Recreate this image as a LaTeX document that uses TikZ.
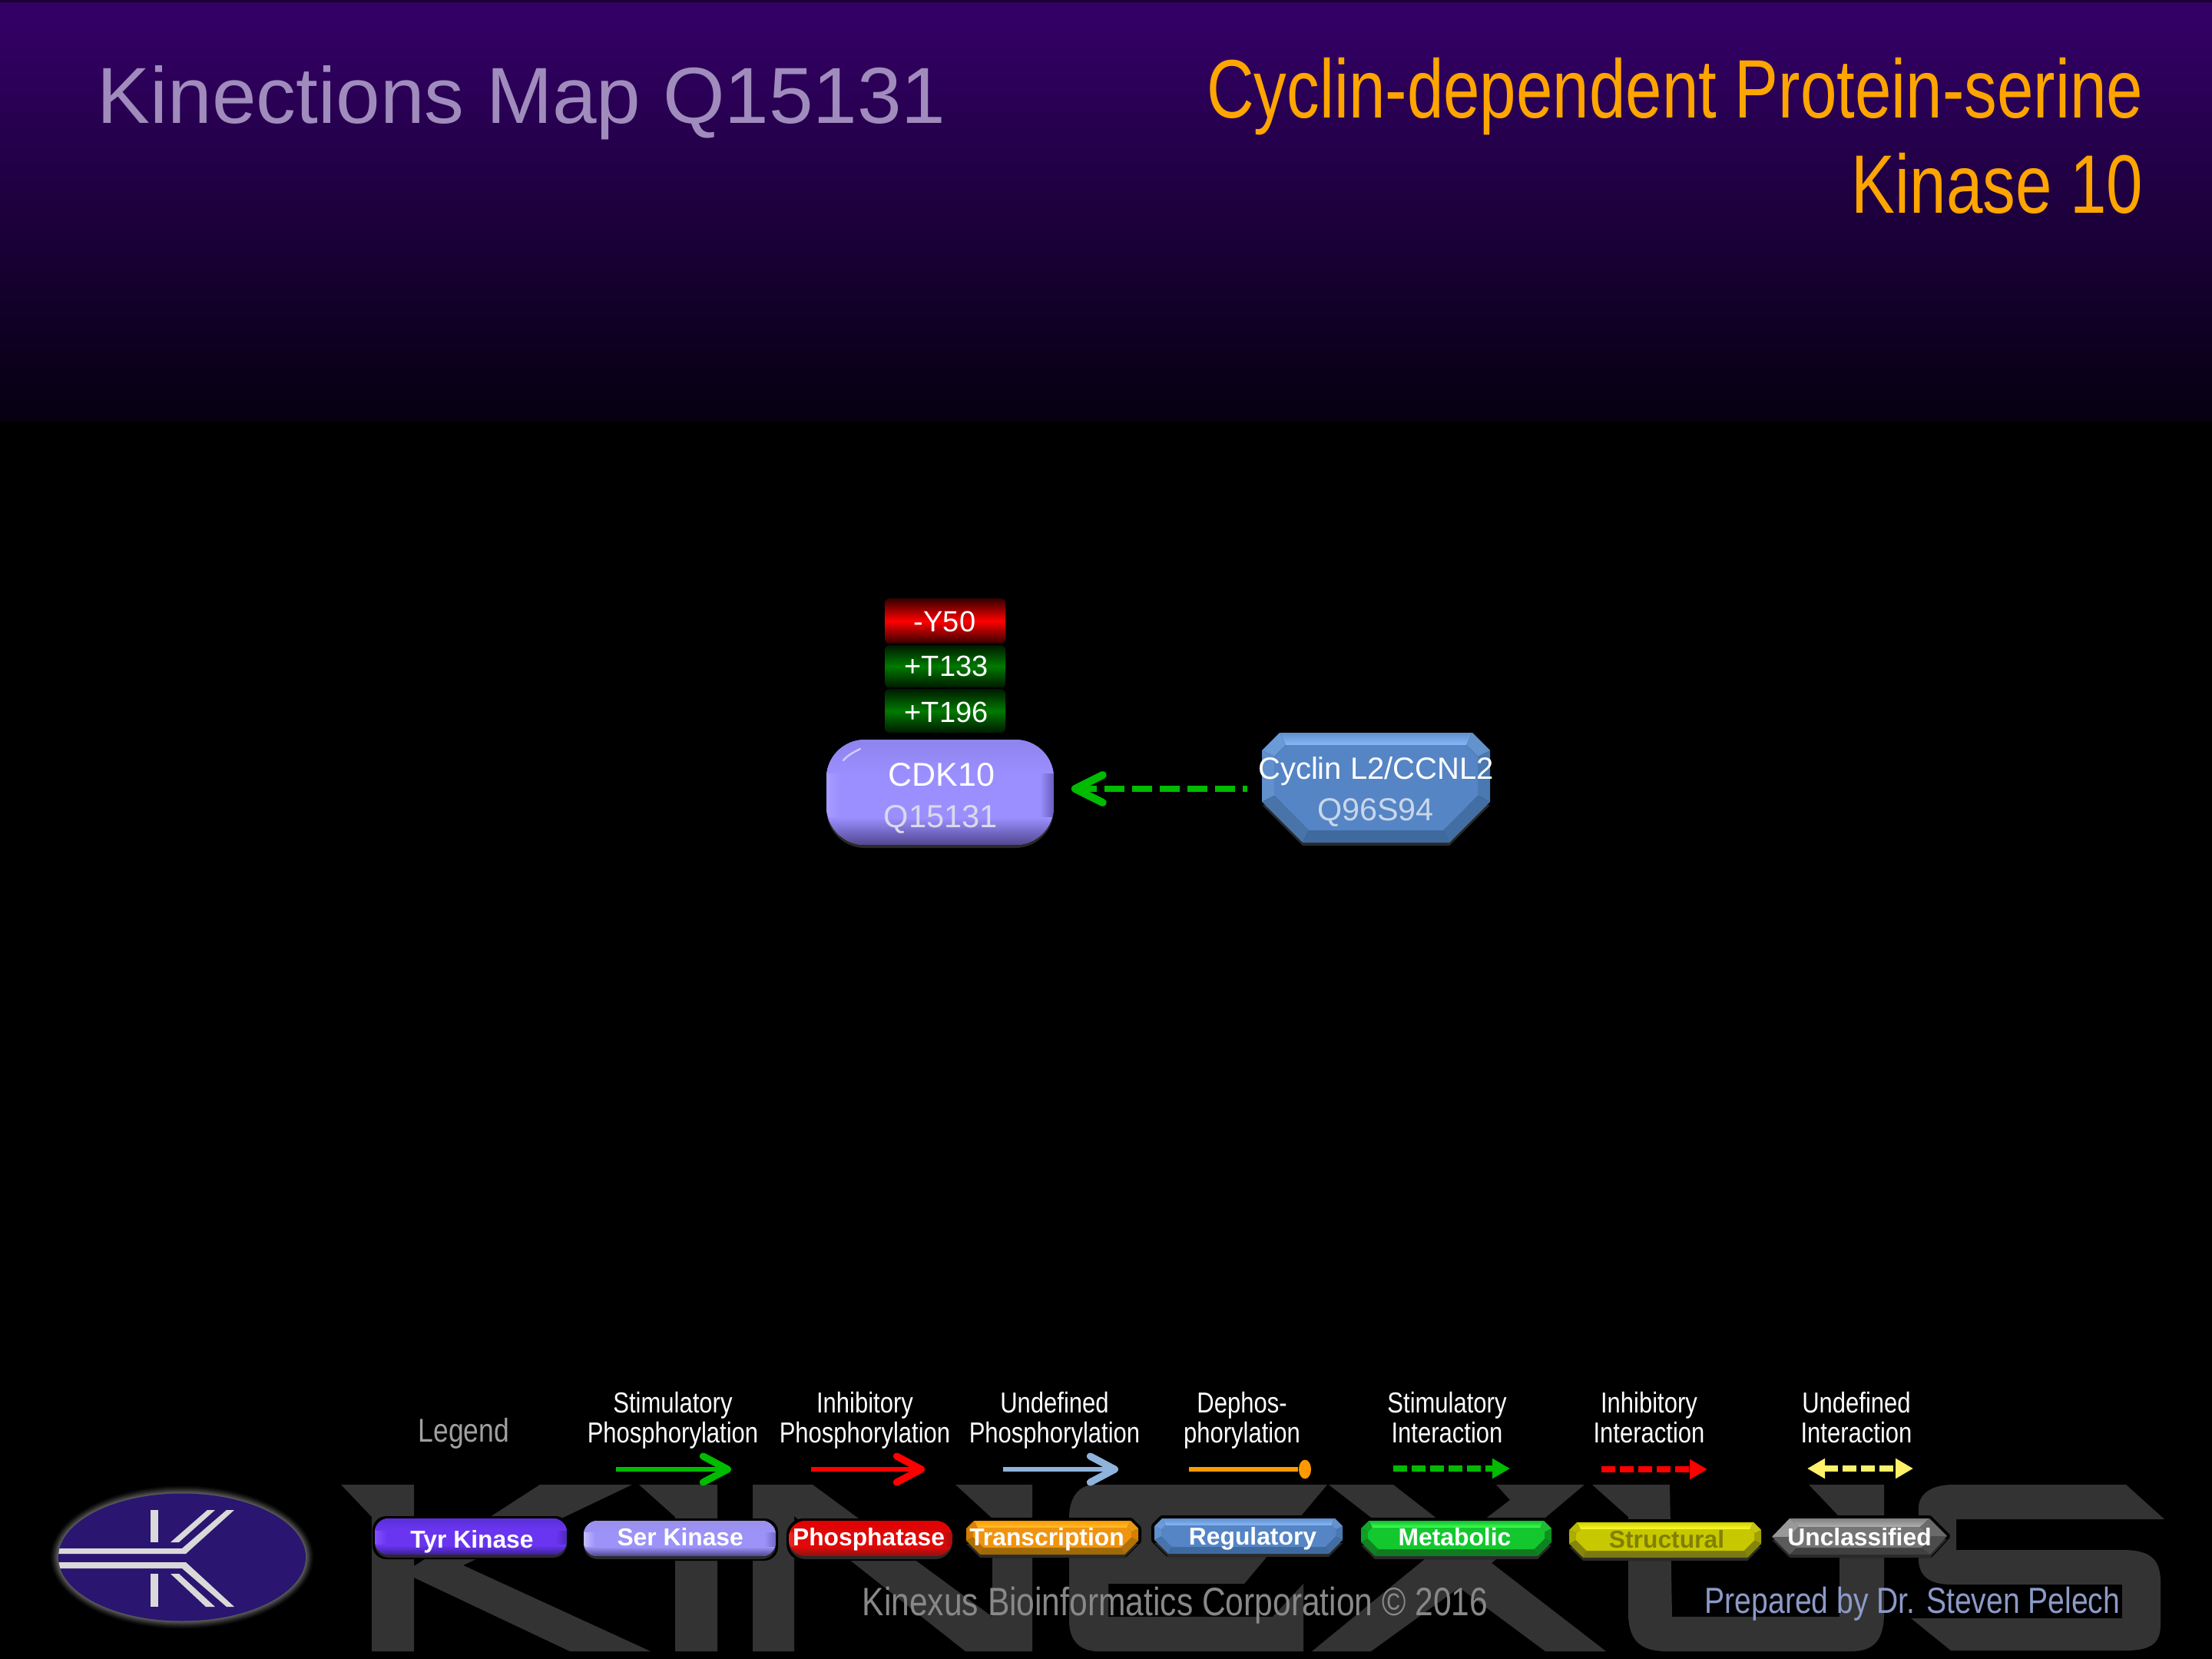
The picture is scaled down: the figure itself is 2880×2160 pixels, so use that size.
\documentclass[tikz,border=0pt]{standalone}
\usepackage{fontspec}
\setmainfont{Liberation Sans}
\newfontfamily\fright[FakeStretch=0.79]{Liberation Sans}
\newfontfamily\nar[FakeStretch=0.825]{Liberation Sans}
\usetikzlibrary{arrows.meta,shapes.geometric}
\newcommand{\fs}[1]{\fontsize{#1}{#1}\selectfont}
\definecolor{hdr}{HTML}{330066}
\definecolor{hdrend}{HTML}{050010}
\definecolor{wm}{HTML}{333333}
\definecolor{shad}{HTML}{2A2A2A}
\definecolor{gIx}{HTML}{00BB00}
\definecolor{tyrE}{HTML}{5A30D8}\definecolor{tyrH}{HTML}{B07CFF}\definecolor{tyrM}{HTML}{6A35F0}\definecolor{tyrB}{HTML}{3E1F98}\definecolor{tyrL}{HTML}{8452FF}\definecolor{tyrR}{HTML}{4E28B8}
\definecolor{serE}{HTML}{9A90E8}\definecolor{serH}{HTML}{D8D2FF}\definecolor{serM}{HTML}{9C92F8}\definecolor{serB}{HTML}{50478C}\definecolor{serL}{HTML}{C4BDFF}\definecolor{serR}{HTML}{7268C8}
\definecolor{phoE}{HTML}{E00000}\definecolor{phoH}{HTML}{FF3C3C}\definecolor{phoM}{HTML}{E00808}\definecolor{phoB}{HTML}{8C1212}\definecolor{phoL}{HTML}{F02828}\definecolor{phoR}{HTML}{A01010}
\definecolor{cdkE}{HTML}{8F83EE}\definecolor{cdkH}{HTML}{D3CCFF}\definecolor{cdkM}{HTML}{9B8FFF}\definecolor{cdkB}{HTML}{51478F}\definecolor{cdkL}{HTML}{A79DFF}\definecolor{cdkR}{HTML}{675CBC}
\definecolor{traE}{HTML}{FF9900}\definecolor{traH}{HTML}{FFC030}\definecolor{traM}{HTML}{F09410}\definecolor{traB}{HTML}{A06A08}\definecolor{traL}{HTML}{E08000}\definecolor{traR}{HTML}{D88000}
\definecolor{regE}{HTML}{5F90D0}\definecolor{regH}{HTML}{88B8F8}\definecolor{regM}{HTML}{5585C5}\definecolor{regB}{HTML}{3F6A9F}\definecolor{regL}{HTML}{6A9AD8}\definecolor{regR}{HTML}{4A78B0}
\definecolor{metE}{HTML}{10C030}\definecolor{metH}{HTML}{40FF50}\definecolor{metM}{HTML}{12C82E}\definecolor{metB}{HTML}{107A20}\definecolor{metL}{HTML}{10A828}\definecolor{metR}{HTML}{0E9020}
\definecolor{strE}{HTML}{D0D000}\definecolor{strH}{HTML}{FFFF30}\definecolor{strM}{HTML}{C8C800}\definecolor{strB}{HTML}{7A7A10}\definecolor{strL}{HTML}{B8B800}\definecolor{strR}{HTML}{A0A000}
\definecolor{uncE}{HTML}{808080}\definecolor{uncH}{HTML}{B0B0B0}\definecolor{uncM}{HTML}{757575}\definecolor{uncB}{HTML}{404040}\definecolor{uncL}{HTML}{999999}\definecolor{uncR}{HTML}{6A6A6A}
% pill: x0 y0 x1 y1 radius(pt) prefix
\newcommand{\pill}[6]{%
  \fill[black,rounded corners=#5] ({#1-3},{#2-3}) rectangle ({#3+3},{#4+6});
  \fill[shad,rounded corners=#5] (#1,{#2+4}) rectangle (#3,{#4+4});
  \begin{scope}
    \clip[rounded corners=#5] (#1,#2) rectangle (#3,#4);
    \fill[#6M] (#1,#2) rectangle (#3,#4);
    \shade[left color=#6L,right color=#6M] (#1,#2) rectangle ({#1+0.06*(#3-#1)},#4);
    \shade[left color=#6M,right color=#6R] ({#3-0.06*(#3-#1)},#2) rectangle (#3,#4);
    \shade[top color=#6E,middle color=#6H,bottom color=#6M] (#1,#2) rectangle (#3,{#2+0.32*(#4-#2)});
    \shade[top color=#6M,bottom color=#6B] (#1,{#4-0.26*(#4-#2)}) rectangle (#3,#4);
  \end{scope}}
% octagon: x0 y0 x1 y1 topchamfer bottomchamfer inset prefix
\newcommand{\octo}[8]{%
  \coordinate (oA) at ({#1+#5},#2); \coordinate (oB) at ({#3-#5},#2);
  \coordinate (oC) at (#3,{#2+#5}); \coordinate (oD) at (#3,{#4-#6});
  \coordinate (oE) at ({#3-#6},#4); \coordinate (oF) at ({#1+#6},#4);
  \coordinate (oG) at (#1,{#4-#6}); \coordinate (oH) at (#1,{#2+#5});
  \coordinate (iA) at ({#1+#5+0.5*#7},{#2+#7}); \coordinate (iB) at ({#3-#5-0.5*#7},{#2+#7});
  \coordinate (iC) at ({#3-#7},{#2+#5+0.5*#7}); \coordinate (iD) at ({#3-#7},{#4-#6-0.5*#7});
  \coordinate (iE) at ({#3-#6-0.5*#7},{#4-#7}); \coordinate (iF) at ({#1+#6+0.5*#7},{#4-#7});
  \coordinate (iG) at ({#1+#7},{#4-#6-0.5*#7}); \coordinate (iH) at ({#1+#7},{#2+#5+0.5*#7});
  \draw[black,fill=black,line width=2pt,line join=round] (oA)--(oB)--(oC)--(oD)--(oE)--(oF)--(oG)--(oH)--cycle;
  \fill[shad,transform canvas={yshift=-1pt}] (oG)--(oD)--(oE)--(oF)--cycle;
  \shade[top color=#8E,bottom color=#8H] (oA)--(oB)--(iB)--(iA)--cycle;
  \fill[#8L] (oA)--(iA)--(iH)--(oH)--cycle;
  \fill[#8L!80!#8B] (oH)--(iH)--(iG)--(oG)--cycle;
  \fill[#8B!80!#8L] (oG)--(iG)--(iF)--(oF)--cycle;
  \fill[#8B] (oF)--(iF)--(iE)--(oE)--cycle;
  \fill[#8B!70!#8R] (oE)--(iE)--(iD)--(oD)--cycle;
  \fill[#8R] (oD)--(iD)--(iC)--(oC)--cycle;
  \fill[#8R!60!#8H] (oC)--(iC)--(iB)--(oB)--cycle;
  \fill[#8M] (iA)--(iB)--(iC)--(iD)--(iE)--(iF)--(iG)--(iH)--cycle;}
\tikzset{
  wmark/.style={fill=wm},
  btntext/.style={anchor=base,inner sep=0pt,text=white,font=\fs{7.95}\bfseries},
  ptmtext/.style={anchor=base,inner sep=0pt,text=white,font=\fs{9.5}},
  idtext/.style={anchor=base,inner sep=0pt,font=\fs{10.5}},
  legtext/.style={anchor=base,inner sep=0pt,align=center,text=white,font=\fontsize{9.4}{9.75}\selectfont\nar},
  ptmred/.style={rounded corners=1.5pt,top color=red!20!black,bottom color=red!20!black,middle color=red},
  ptmgreen/.style={rounded corners=1.5pt,top color=green!50!black!20!black,bottom color=green!50!black!20!black,middle color=green!48!black},
  larrow/.style={line width=1.7pt,-{Straight Barb[length=8pt,width=8.5pt,line width=2.3pt,round]}},
  darrow/.style={line width=1.8pt,dash pattern=on 4.6pt off 1.4pt},
}
\begin{document}
\begin{tikzpicture}[x=0.25pt,y=-0.25pt]
\useasboundingbox (0,0) rectangle (2880,2160);
\fill[black] (0,0) rectangle (2880,2160);
\fill[hdr] (0,3) rectangle (2880,25);
\shade[top color=hdr,bottom color=hdrend] (0,25) rectangle (2880,550);
\fill[hdr!50!black] (0,0) rectangle (2880,3);
% watermark KINEXUS
\fill[wmark] (444,1933)--(539,1933)--(539,2039)--(703,1933)--(823,1933)--(603,2038)--(847,2150)--(742,2150)--(539,2054)--(539,2150)--(484,2150)--(484,1975)--cycle;
\fill[wmark] (832,1933)--(934,1933)--(934,2150)--(879,2150)--(879,1975)--cycle;
\fill[wmark] (980,1933)--(1058,1933)--(1292,2105)--(1292,1977)--(1244,1933)--(1344,1933)--(1344,2150)--(1257,2150)--(1034,1974)--(1034,2150)--(980,2150)--cycle;
\fill[wmark] (1425,1933)--(1728,1933)--(1620,2062)--(1443,2062)--(1443,2105)--(1657,2105)--(1697,2062)--(1697,2150)--(1430,2150) .. controls (1405,2150) and (1392,2135) .. (1392,2110)--(1392,1975) .. controls (1392,1950) and (1405,1933) .. (1425,1933)--cycle;
\fill[wmark] (1730,1933)--(1814,1933)--(1868,1975)--(1905,2003)--(1937,1975)--(1966,1953)--(1948,1933)--(2063,1933)--(1942,2035)--(2091,2150)--(2012,2150)--(1900,2067)--(1785,2150)--(1708,2150)--(1855,2030)--cycle;
\fill[wmark] (2073,1933)--(2174,1933)--(2177,2105)--(2395,2105)--(2395,1975)--(2355,1933)--(2453,1933)--(2453,2100) .. controls (2453,2135) and (2440,2150) .. (2410,2150)--(2170,2150) .. controls (2135,2150) and (2120,2135) .. (2120,2100)--(2120,1975)--cycle;
\fill[wmark] (2543,1933)--(2768,1933)--(2818,1978)--(2547,1978)--(2547,2018)--(2763,2018) .. controls (2800,2018) and (2813,2030) .. (2813,2060)--(2813,2115) .. controls (2813,2140) and (2800,2149) .. (2767,2149)--(2540,2149)--(2488,2107)--(2763,2107)--(2763,2063)--(2540,2063) .. controls (2510,2063) and (2498,2050) .. (2498,2030)--(2498,1963) .. controls (2498,1945) and (2515,1933) .. (2543,1933)--cycle;
% logo
\foreach \d/\g in {10/4,8/10,6/17,4/25,2/33}{\fill[white!\g!black] (237,2027.5) ellipse ({161+\d} and {83+\d});}
\begin{scope}
\clip (237,2027.5) ellipse (161 and 83);
\fill[fill={rgb,255:red,42;green,21;blue,112}] (60,1930) rectangle (410,2120);
\fill[white!85!black] (60,2016)--(237,2016)--(295,1966)--(305,1966)--(242,2023)--(60,2023)--cycle;
\fill[white!85!black] (60,2034)--(242,2034)--(305,2092)--(295,2092)--(237,2042)--(60,2042)--cycle;
\fill[white!85!black] (270,1966)--(280,1966)--(233,2008)--(222,2008)--cycle;
\fill[white!85!black] (222,2049)--(233,2049)--(280,2092)--(268,2092)--cycle;
\fill[white!85!black] (196,1966) rectangle (206,2008);
\fill[white!85!black] (196,2049) rectangle (206,2092);
\end{scope}
% titles
\node[anchor=base west,inner sep=0pt,text={rgb,255:red,160;green,140;blue,188},font=\fs{25.88}] (maptitle) at (126,161) {Kinections Map Q15131};
\node[anchor=base east,inner sep=0pt,align=right,text={rgb,255:red,255;green,165;blue,0},font=\fontsize{27}{31}\selectfont\fright] (kinasetitle) at (2791,278) {Cyclin-dependent Protein-serine\\Kinase 10};
% PTM boxes
\shade[ptmred] (1152,779) rectangle (1309,838);
\shade[ptmgreen] (1152,840) rectangle (1309,895);
\shade[ptmgreen] (1152,897) rectangle (1309,954);
\node[ptmtext] (ptma) at (1230,823) {-Y50};
\node[ptmtext] (ptmb) at (1232,881) {+T133};
\node[ptmtext] (ptmc) at (1232,941) {+T196};
% main nodes
\pill{1076}{963}{1372}{1100}{12.5pt}{cdk}
\draw[cdkH,line width=0.6pt,line cap=round] (1098,990) .. controls (1103,984) and (1110,980) .. (1120,975);
\node[inner sep=0pt,minimum width=74pt,minimum height=34.25pt] (cdk) at (1224,1031.5) {};
\node[idtext,font=\fs{10.75},text=white] (cdkname) at (1226,1023) {CDK10};
\node[idtext,font=\fs{10.4},text={rgb,255:red,220;green,216;blue,236}] (cdkid) at (1225,1077) {Q15131};
\octo{1643}{954}{1940}{1097}{23}{53}{16}{reg}
\node[inner sep=0pt,minimum width=74.25pt,minimum height=35pt] (cyc) at (1791.5,1027) {};
\node[idtext,font=\fs{10},text=white] (cycname) at (1791.5,1014) {Cyclin L2/CCNL2};
\node[idtext,font=\fs{10.35},text={rgb,255:red,201;green,214;blue,234}] (cycid) at (1791,1068) {Q96S94};
\draw[gIx,line width=2.2pt,dash pattern=on 6.5pt off 2.5pt,dash phase=5pt,shorten <=4.5pt,shorten >=5.5pt,-{Straight Barb[length=9pt,width=9pt,line width=2.5pt,round]}] (cyc.west) -- (cyc.west -| cdk.east);
% legend labels
\node[anchor=base,inner sep=0pt,text={rgb,255:red,160;green,160;blue,160},font=\fs{10.75}\nar] (legend) at (604,1877) {Legend};
\node[legtext] (la) at (876,1878) {Stimulatory\\Phosphorylation};
\node[legtext] (lb) at (1126,1878) {Inhibitory\\Phosphorylation};
\node[legtext] (lc) at (1373,1878) {Undefined\\Phosphorylation};
\node[legtext] (ld) at (1617,1878) {Dephos-\\phorylation};
\node[legtext] (le) at (1884,1878) {Stimulatory\\Interaction};
\node[legtext] (lf) at (2147,1878) {Inhibitory\\Interaction};
\node[legtext] (lg) at (2417,1878) {Undefined\\Interaction};
% legend arrows
\coordinate (a1) at (802,1913); \coordinate (a2) at (952,1913);
\coordinate (b1) at (1056,1913); \coordinate (b2) at (1204,1913);
\coordinate (c1) at (1306,1913); \coordinate (c2) at (1456,1913);
\coordinate (d1) at (1548,1913);
\coordinate (e1) at (1814,1912); \coordinate (e2) at (1966,1912);
\coordinate (f1) at (2085,1913); \coordinate (f2) at (2223,1913);
\coordinate (g1) at (2353,1912); \coordinate (g2) at (2491,1912);
\draw[larrow,gIx] (a1) -- (a2);
\draw[larrow,red] (b1) -- (b2);
\draw[larrow,color={rgb,255:red,143;green,180;blue,220}] (c1) -- (c2);
\node[ellipse,fill={rgb,255:red,255;green,153;blue,0},inner sep=0pt,minimum width=4pt,minimum height=6.2pt] (dot) at (1699,1913) {};
\draw[line width=1.7pt,color={rgb,255:red,255;green,153;blue,0}] (d1) -- (dot);
\draw[darrow,gIx,-{Triangle[length=5.75pt,width=6.2pt]}] (e1) -- (e2);
\draw[darrow,red,-{Triangle[length=5.75pt,width=6.2pt]}] (f1) -- (f2);
\draw[darrow,color={rgb,255:red,255;green,240;blue,106},{Triangle[length=5.75pt,width=6.2pt]}-{Triangle[length=5.75pt,width=6.2pt]}] (g1) -- (g2);
% footer
\node[anchor=base west,inner sep=0pt,text={rgb,255:red,136;green,136;blue,136},font=\fs{12.9}\nar] (corp) at (1122,2103) {Kinexus Bioinformatics Corporation © 2016};
\node[anchor=base west,inner sep=0pt,text={rgb,255:red,140;green,154;blue,200},font=\fs{11.85}\nar] (prep) at (2219,2100) {Prepared by Dr. Steven Pelech};
% legend buttons
\pill{488}{1977}{738}{2024}{4.5pt}{tyr}
\node[btntext] (tyr) at (614.5,2015) {Tyr Kinase};
\pill{760}{1980}{1010}{2026}{4.5pt}{ser}
\node[btntext] (ser) at (885.7,2012) {Ser Kinase};
\pill{1027}{1980}{1240}{2026}{5.5pt}{pho}
\node[btntext] (pho) at (1131,2012) {Phosphatase};
\octo{1258}{1980}{1482}{2024}{10}{18}{9}{tra}
\node[btntext] (tra) at (1363,2012) {Transcription};
\octo{1503}{1977}{1748}{2023}{10}{18}{9}{reg}
\node[btntext] (regu) at (1631,2011) {Regulatory};
\octo{1772}{1980}{2020}{2026}{10}{18}{9}{met}
\node[btntext] (met) at (1894,2012) {Metabolic};
\octo{2043}{1982}{2293}{2028}{10}{18}{9}{str}
\node[btntext,text={rgb,255:red,128;green,128;blue,0}] (stru) at (2170,2015) {Structural};
% unclassified hexagon
\draw[black,fill=black,line width=2pt,line join=round] (2307,2001)--(2330,1977)--(2512,1977)--(2535,2000)--(2513,2024)--(2330,2024)--cycle;
\fill[shad,transform canvas={yshift=-1pt}] (2307,2001)--(2535,2000)--(2513,2024)--(2330,2024)--cycle;
\shade[top color=uncE,bottom color=uncH] (2330,1977)--(2512,1977)--(2500,1988)--(2342,1988)--cycle;
\fill[uncL] (2307,2001)--(2330,1977)--(2342,1988)--(2328,2001)--cycle;
\fill[uncB!70!uncL] (2307,2001)--(2328,2001)--(2340,2015)--(2330,2024)--cycle;
\fill[uncB] (2330,2024)--(2513,2024)--(2502,2015)--(2340,2015)--cycle;
\fill[uncR] (2535,2000)--(2514,2000)--(2500,1988)--(2512,1977)--cycle;
\fill[uncB!70!uncR] (2535,2000)--(2513,2024)--(2502,2015)--(2514,2000)--cycle;
\fill[uncM] (2328,2001)--(2342,1988)--(2500,1988)--(2514,2000)--(2502,2015)--(2340,2015)--cycle;
\node[btntext] (unc) at (2421,2012) {Unclassified};
\end{tikzpicture}
\end{document}
